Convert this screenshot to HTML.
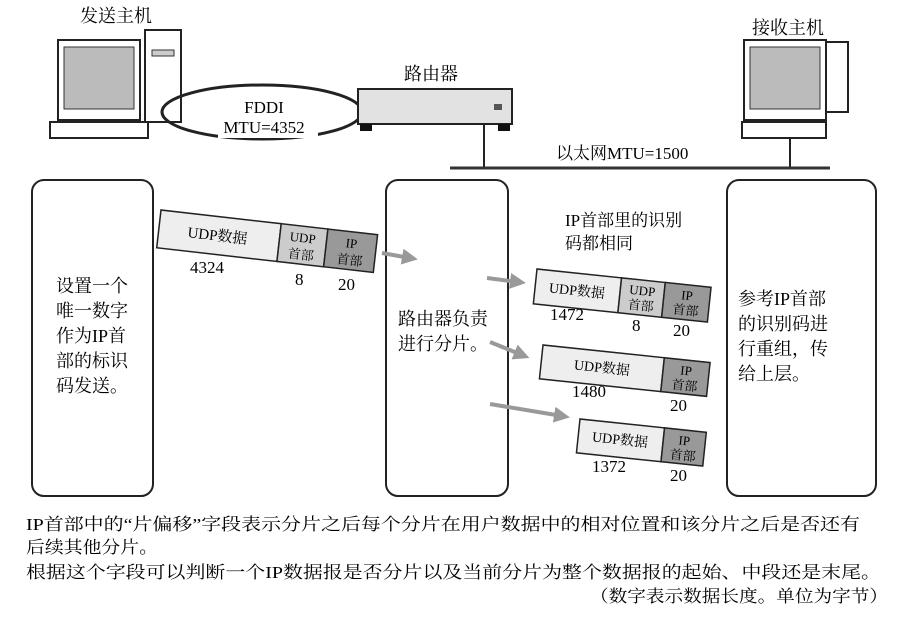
<!DOCTYPE html>
<html><head><meta charset="utf-8"><style>
body{margin:0;background:#fff}
svg{display:block;font-family:"Liberation Serif","Noto Serif CJK SC",serif}
</style></head><body>
<svg width="910" height="617" viewBox="0 0 910 617" xmlns="http://www.w3.org/2000/svg">
<defs>
<marker id="ah" markerWidth="4" markerHeight="4" refX="2" refY="2" orient="auto"><path d="M0,0L4,2L0,4z" fill="#999"/></marker>
</defs>
<text x="80" y="22" font-size="18">发送主机</text>
<text x="752" y="34" font-size="18">接收主机</text>
<text x="404" y="80" font-size="18">路由器</text>
<!-- sender pc -->
<rect x="145" y="30" width="36" height="92" fill="#fff" stroke="#222" stroke-width="2"/>
<rect x="152" y="50" width="22" height="6" fill="#ccc" stroke="#333"/>
<rect x="58" y="40" width="82" height="80" fill="#fff" stroke="#222" stroke-width="2"/>
<rect x="64" y="47" width="70" height="62" fill="#bbb" stroke="#333"/>
<rect x="50" y="122" width="98" height="16" fill="#fff" stroke="#222" stroke-width="2"/>
<!-- receiver pc -->
<rect x="826" y="42" width="22" height="70" fill="#fff" stroke="#222" stroke-width="2"/>
<rect x="744" y="40" width="82" height="80" fill="#fff" stroke="#222" stroke-width="2"/>
<rect x="750" y="47" width="70" height="62" fill="#bbb" stroke="#333"/>
<rect x="742" y="122" width="84" height="16" fill="#fff" stroke="#222" stroke-width="2"/>
<line x1="790" y1="138" x2="790" y2="168" stroke="#222" stroke-width="2"/>
<!-- FDDI ring -->
<ellipse cx="262" cy="112" rx="100" ry="27" fill="none" stroke="#222" stroke-width="3"/>
<rect x="218" y="96" width="100" height="42" fill="#fff"/>
<text x="264" y="113" font-size="17" text-anchor="middle">FDDI</text>
<text x="264" y="133" font-size="17" text-anchor="middle">MTU=4352</text>
<!-- router -->
<rect x="358" y="89" width="154" height="35" fill="#e2e2e2" stroke="#222" stroke-width="2"/>
<rect x="494" y="104" width="8" height="6" fill="#555"/>
<rect x="360" y="124" width="12" height="7" fill="#111"/><rect x="498" y="124" width="12" height="7" fill="#111"/>
<line x1="484" y1="124" x2="484" y2="168" stroke="#222" stroke-width="2"/>
<line x1="450" y1="168" x2="830" y2="168" stroke="#333" stroke-width="3"/>
<text x="556" y="159" font-size="17">以太网MTU=1500</text>
<!-- boxes -->
<rect x="32" y="180" width="121" height="316" rx="12" fill="#fff" stroke="#222" stroke-width="2"/>
<rect x="386" y="180" width="122" height="316" rx="12" fill="#fff" stroke="#222" stroke-width="2"/>
<rect x="727" y="180" width="149" height="316" rx="12" fill="#fff" stroke="#222" stroke-width="2"/>
<g font-size="18">
<text x="56" y="292">设置一个</text><text x="56" y="317">唯一数字</text><text x="56" y="342">作为IP首</text><text x="56" y="367">部的标识</text><text x="56" y="392">码发送。</text>
<text x="398" y="325">路由器负责</text><text x="398" y="350">进行分片。</text>
<text x="738" y="305">参考IP首部</text><text x="738" y="330">的识别码进</text><text x="738" y="355">行重组，传</text><text x="738" y="380">给上层。</text>
<text x="565" y="226" font-size="17">IP首部里的识别</text><text x="565" y="249" font-size="17">码都相同</text>
</g>
<!-- packets -->
<g transform="rotate(6.5 161 210)" stroke="#222" stroke-width="1.5">
<rect x="161" y="210" width="121" height="38" fill="#eee"/>
<rect x="282" y="210" width="47" height="38" fill="#ccc"/>
<rect x="329" y="210" width="50" height="38" fill="#999"/>
<text x="220" y="234" font-size="15" text-anchor="middle" stroke="none">UDP数据</text>
<text x="305" y="226" font-size="13" text-anchor="middle" stroke="none">UDP</text><text x="305" y="243" font-size="13" text-anchor="middle" stroke="none">首部</text>
<text x="354" y="226" font-size="13" text-anchor="middle" stroke="none">IP</text><text x="354" y="243" font-size="13" text-anchor="middle" stroke="none">首部</text>
</g>
<text x="190" y="273" font-size="17">4324</text><text x="295" y="285" font-size="17">8</text><text x="338" y="290" font-size="17">20</text>

<g transform="rotate(6 537 269)" stroke="#222" stroke-width="1.5">
<rect x="537" y="269" width="85" height="35" fill="#eee"/>
<rect x="622" y="269" width="44" height="35" fill="#ccc"/>
<rect x="666" y="269" width="46" height="35" fill="#999"/>
<text x="579" y="291" font-size="14" text-anchor="middle" stroke="none">UDP数据</text>
<text x="644" y="284" font-size="13" text-anchor="middle" stroke="none">UDP</text><text x="644" y="299" font-size="13" text-anchor="middle" stroke="none">首部</text>
<text x="689" y="284" font-size="13" text-anchor="middle" stroke="none">IP</text><text x="689" y="299" font-size="13" text-anchor="middle" stroke="none">首部</text>
</g>
<text x="550" y="320" font-size="17">1472</text><text x="632" y="331" font-size="17">8</text><text x="673" y="336" font-size="17">20</text>

<g transform="rotate(6 543 345)" stroke="#222" stroke-width="1.5">
<rect x="543" y="345" width="122" height="34" fill="#eee"/>
<rect x="665" y="345" width="46" height="34" fill="#999"/>
<text x="604" y="366" font-size="14" text-anchor="middle" stroke="none">UDP数据</text>
<text x="688" y="360" font-size="13" text-anchor="middle" stroke="none">IP</text><text x="688" y="375" font-size="13" text-anchor="middle" stroke="none">首部</text>
</g>
<text x="572" y="397" font-size="17">1480</text><text x="670" y="411" font-size="17">20</text>

<g transform="rotate(6 580 419)" stroke="#222" stroke-width="1.5">
<rect x="580" y="419" width="85" height="34" fill="#eee"/>
<rect x="665" y="419" width="42" height="34" fill="#999"/>
<text x="622" y="440" font-size="14" text-anchor="middle" stroke="none">UDP数据</text>
<text x="686" y="434" font-size="13" text-anchor="middle" stroke="none">IP</text><text x="686" y="449" font-size="13" text-anchor="middle" stroke="none">首部</text>
</g>
<text x="592" y="472" font-size="17">1372</text><text x="670" y="481" font-size="17">20</text>
<g stroke="#999" stroke-width="4" fill="none" marker-end="url(#ah)">
<line x1="382" y1="253" x2="410" y2="258"/>
<line x1="487" y1="278" x2="518" y2="282"/>
<line x1="490" y1="342" x2="522" y2="355"/>
<line x1="490" y1="404" x2="562" y2="416"/>
</g>
<g font-size="17">
<text x="26" y="530" textLength="834" lengthAdjust="spacingAndGlyphs">IP首部中的“片偏移”字段表示分片之后每个分片在用户数据中的相对位置和该分片之后是否还有</text>
<text x="26" y="553" textLength="132" lengthAdjust="spacingAndGlyphs">后续其他分片。</text>
<text x="26" y="578" textLength="855" lengthAdjust="spacingAndGlyphs">根据这个字段可以判断一个IP数据报是否分片以及当前分片为整个数据报的起始、中段还是末尾。</text>
<text x="590" y="602" textLength="298" lengthAdjust="spacingAndGlyphs">（数字表示数据长度。单位为字节）</text>
</g>
</svg>
</body></html>
